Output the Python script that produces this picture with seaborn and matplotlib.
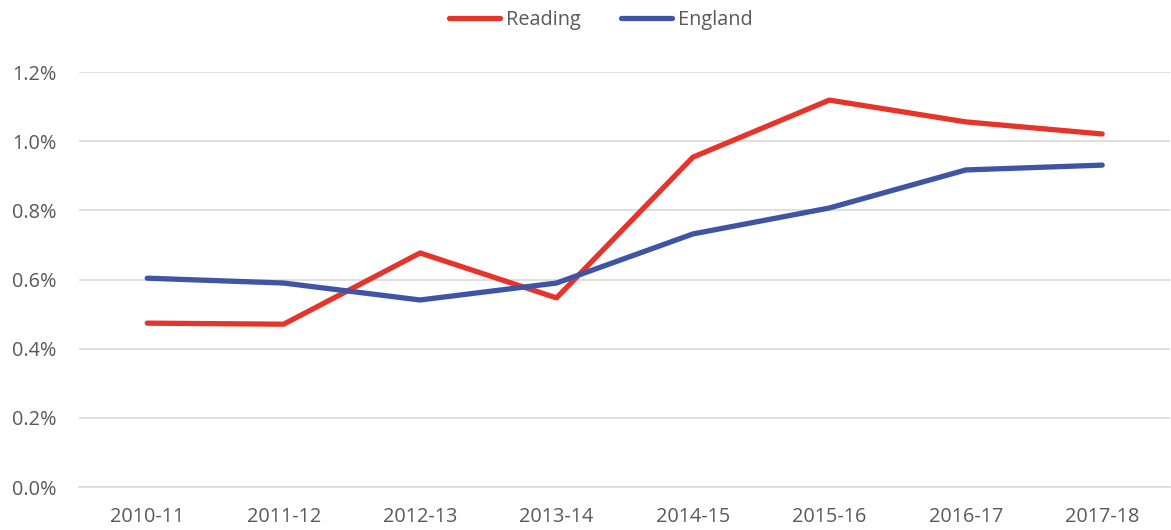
import matplotlib
matplotlib.use("Agg")
import matplotlib.pyplot as plt
from matplotlib.ticker import PercentFormatter
import seaborn as sns
import pandas as pd

years = ["2010-11", "2011-12", "2012-13", "2013-14", "2014-15", "2015-16", "2016-17", "2017-18"]
reading = [0.474, 0.471, 0.677, 0.547, 0.954, 1.119, 1.056, 1.021]
england = [0.604, 0.590, 0.541, 0.590, 0.732, 0.807, 0.917, 0.931]

PALETTE = {"Reading": "#E5352B", "England": "#3F54A5"}
TEXT = "#595959"

sns.set_theme(style="white")
plt.rcParams["font.family"] = ["Open Sans", "DejaVu Sans"]

df = pd.DataFrame({"year": years * 2,
                   "area": ["Reading"] * len(years) + ["England"] * len(years),
                   "rate": [v / 100 for v in reading + england]})

fig = plt.figure(figsize=(11.71, 5.30), dpi=100)
ax = fig.add_axes([0.0675, 0.081, 0.932, 0.783])
sns.lineplot(data=df, x="year", y="rate", hue="area", palette=PALETTE,
             linewidth=3.8, sort=False, ax=ax, legend=False)

ax.set_xlim(-0.5, len(years) - 0.5)
ax.set_ylim(0, 0.012)
ax.set_yticks([i * 0.002 for i in range(7)])
ax.yaxis.set_major_formatter(PercentFormatter(1.0, decimals=1))
ax.grid(axis="y", color="#D9D9D9", linewidth=1.2)
ax.set_axisbelow(True)
for s in ["top", "right", "left"]:
    ax.spines[s].set_visible(False)
ax.spines["bottom"].set_color("#D9D9D9")
ax.spines["bottom"].set_linewidth(1.2)
ax.tick_params(axis="both", length=0, labelsize=14.3, colors=TEXT)
ax.tick_params(axis="y", pad=16)
ax.tick_params(axis="x", pad=14)
ax.set_xlabel("")
ax.set_ylabel("")

handles = [plt.Line2D([], [], color=PALETTE[k], linewidth=3.8, solid_capstyle="round") for k in PALETTE]
leg = fig.legend(handles, list(PALETTE), loc="center", bbox_to_anchor=(0.513, 0.963), ncol=2,
                 frameon=False, fontsize=14.3, handlelength=2.6, columnspacing=2.0, handletextpad=0.3)
for t in leg.get_texts():
    t.set_color(TEXT)

fig.savefig("out.png", dpi=100)
